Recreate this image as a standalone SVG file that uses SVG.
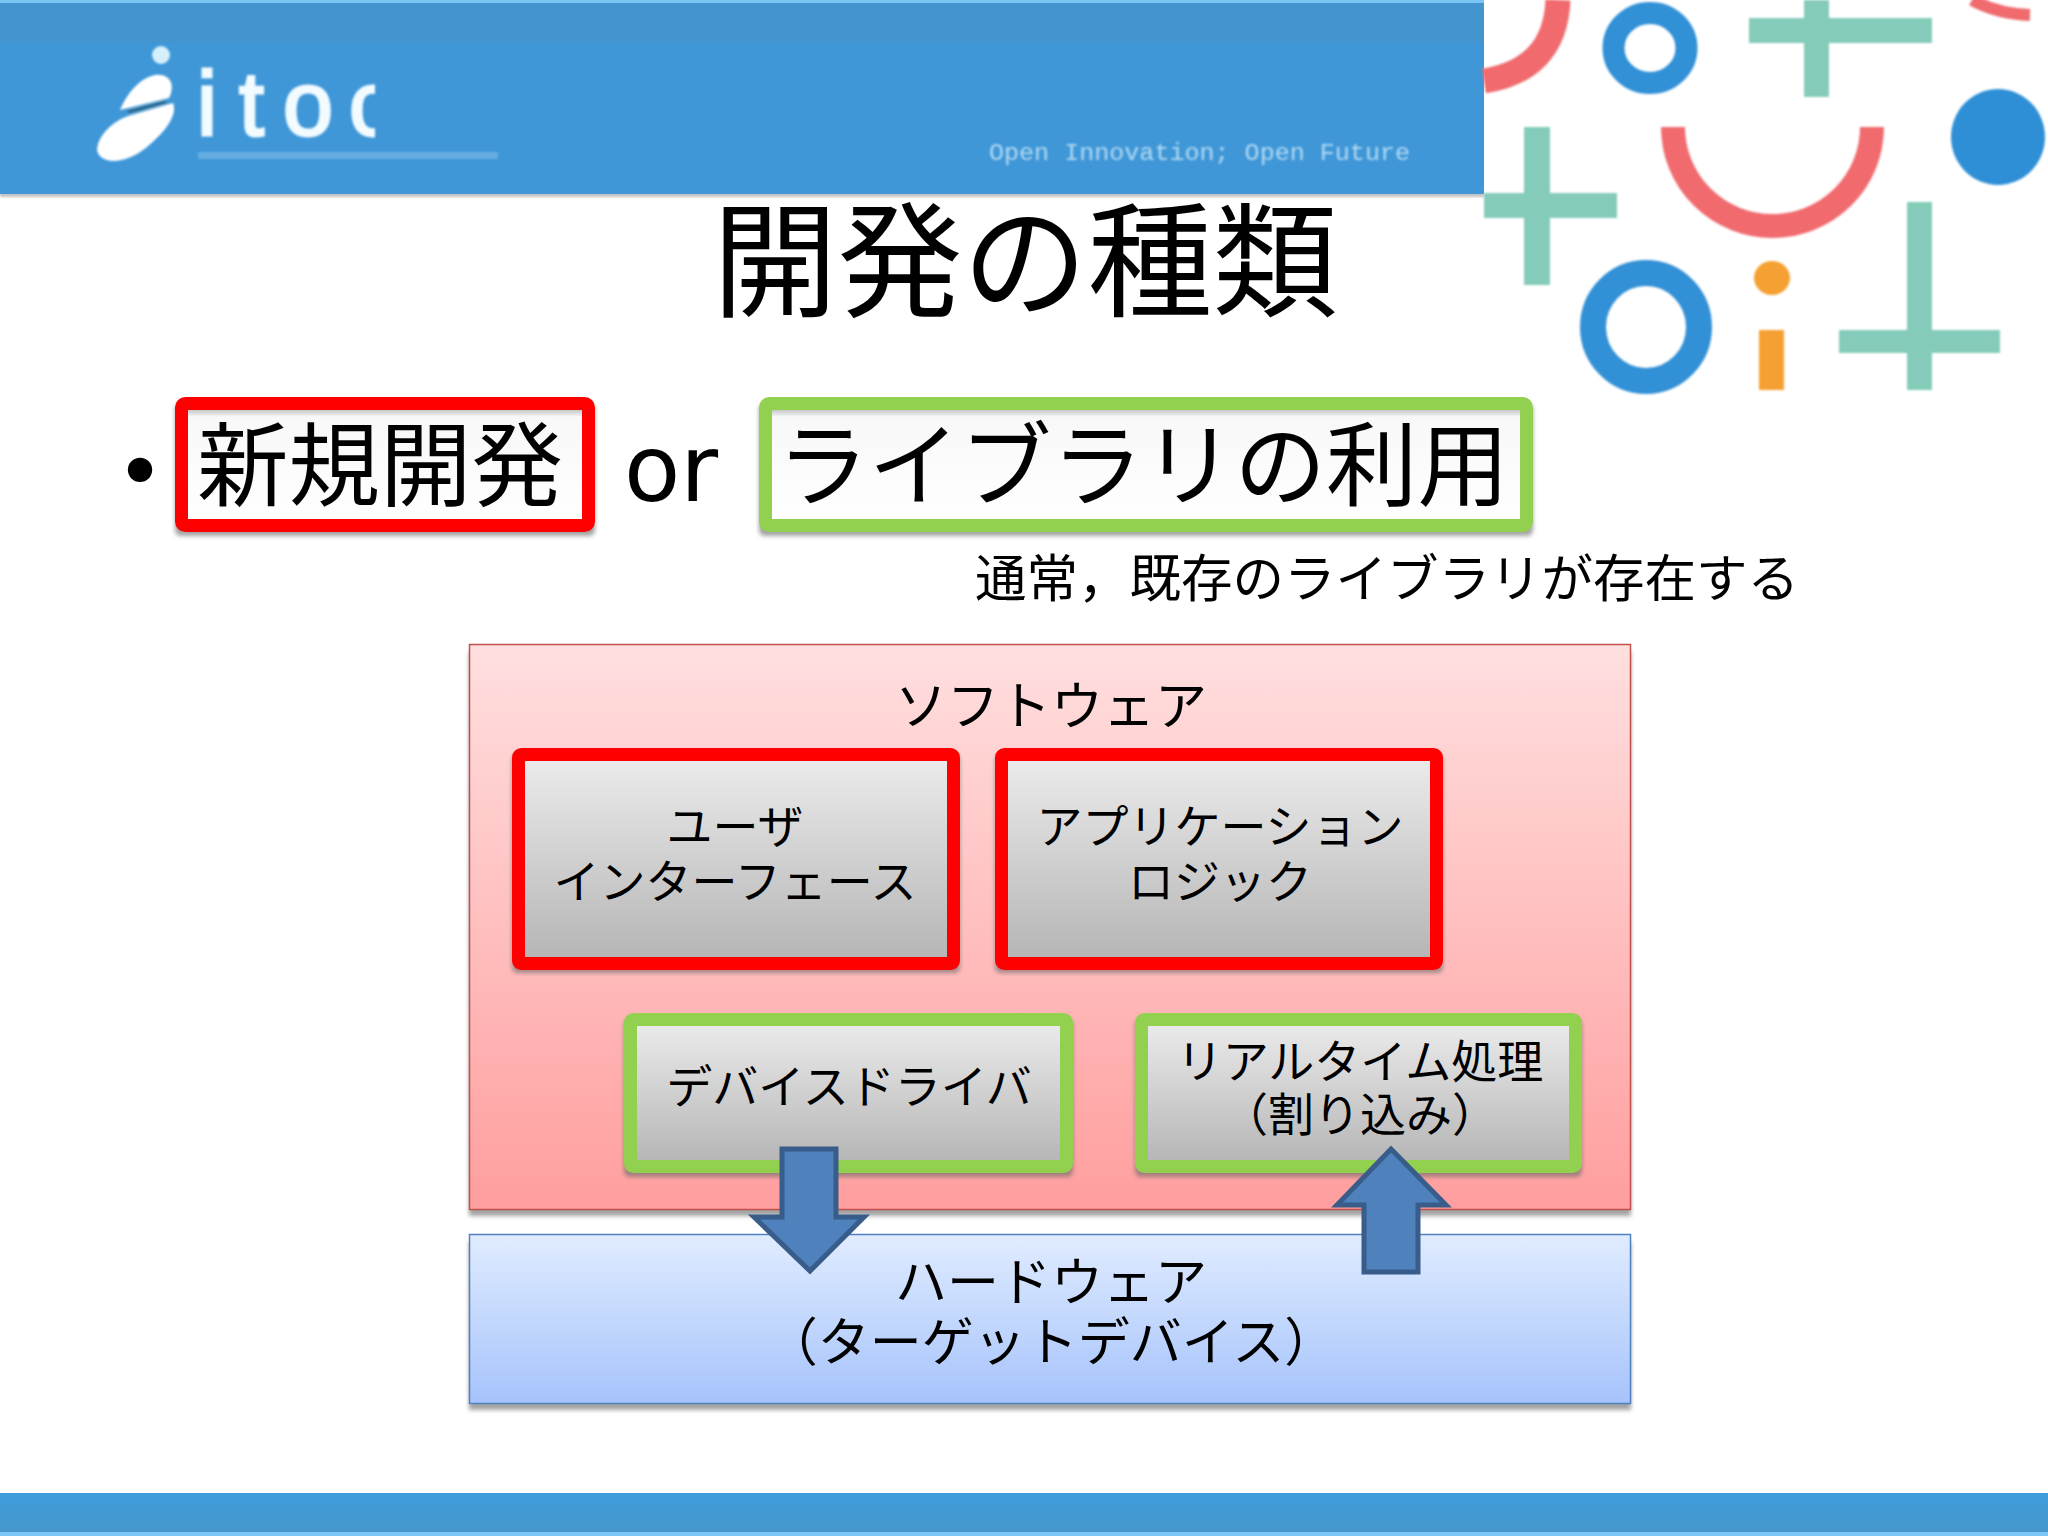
<svg xmlns="http://www.w3.org/2000/svg" width="2048" height="1536" viewBox="0 0 2048 1536">
<style>
text{font-family:"Noto Sans CJK JP","Noto Sans",sans-serif;fill:#000;text-anchor:middle}
.s51{font-size:52px}.s46{font-size:46px}.s91{font-size:91.5px}
.plus{fill:#85cbb9}.ring{fill:none;stroke:#3390d6}.arc{fill:none;stroke:#f06a6e}
.red{fill:url(#g);stroke:#f00;stroke-width:13}.grn{fill:url(#g);stroke:#92d050;stroke-width:13}
.sh{fill:#666;opacity:.6;filter:url(#b)}
.arrow{fill:#4f81bd;stroke:#385d8a;stroke-width:5}
</style>
<defs>
<linearGradient id="g" x1="0" y1="0" x2="0" y2="1"><stop offset="0" stop-color="#ececec"/><stop offset="1" stop-color="#b4b4b4"/></linearGradient>
<linearGradient id="gp" x1="0" y1="0" x2="0" y2="1"><stop offset="0" stop-color="#ffdfdf"/><stop offset="1" stop-color="#ff9e9e"/></linearGradient>
<linearGradient id="gb" x1="0" y1="0" x2="0" y2="1"><stop offset="0" stop-color="#e0ecff"/><stop offset="1" stop-color="#a6c3fb"/></linearGradient>
<linearGradient id="gw" x1="0" y1="0" x2="0" y2="1"><stop offset=".05" stop-color="#c4c4c4"/><stop offset=".11" stop-color="#f8f8f8"/><stop offset="1" stop-color="#fff"/></linearGradient>
<linearGradient id="gf" x1="0" y1="0" x2="0" y2="1"><stop offset="0" stop-color="#3d9ddc"/><stop offset="1" stop-color="#4897c9"/></linearGradient>
<filter id="b" x="-5%" y="-10%" width="110%" height="120%"><feGaussianBlur stdDeviation="2"/></filter>
<filter id="b1" x="-5%" y="-30%" width="110%" height="160%"><feGaussianBlur stdDeviation="1.2"/></filter>
<filter id="b0" x="-2%" y="-2%" width="104%" height="104%"><feGaussianBlur stdDeviation=".8"/></filter>
<clipPath id="cl"><rect x="190" y="60" width="185" height="90"/></clipPath>
</defs>
<rect width="2048" height="1536" fill="#fff"/>
<g id="header">
<rect x="0" y="192" width="1484" height="5" fill="#888" opacity=".5" filter="url(#b1)"/>
<rect x="0" y="0" width="1484" height="194" fill="#3f97d7"/>
<rect x="0" y="0" width="1484" height="3" fill="#7cc6f5"/>
<rect x="0" y="3" width="1484" height="40" fill="#4695c8" opacity=".6"/>
<g id="logo" filter="url(#b0)">
<circle cx="161" cy="55" r="9" fill="#d5f0fb"/>
<path d="M97 150C100 165 125 165 147 147C165 132 178 115 173 103L128 116C112 122 98 135 97 150Z" fill="#fff"/>
<path d="M120 110C128 92 140 78 155 75C170 73 176 85 169 98L128 108Z" fill="#fff"/>
<path d="M128 112L166 102" stroke="#2d6a8a" stroke-width="3" fill="none"/>
<text x="197 239 283 349" y="135" clip-path="url(#cl)" style="font-family:'Liberation Sans',sans-serif;font-size:90px;fill:#f2fbff;stroke:#f2fbff;stroke-width:3px;text-anchor:start">itoc</text>
</g>
<rect x="198" y="152" width="300" height="7" fill="#9fcdee" opacity=".4" filter="url(#b1)"/>
<text x="989" y="160" filter="url(#b1)" style="font-family:'Liberation Mono',monospace;font-size:23px;fill:#b4daf4;text-anchor:start" textLength="421" lengthAdjust="spacingAndGlyphs">Open Innovation; Open Future</text>
</g>
<g id="decoration" filter="url(#b0)">
<path class="arc" d="M1484 81Q1555 70 1558 0" stroke-width="25"/>
<ellipse class="ring" cx="1650" cy="48" rx="36.500" ry="35" stroke-width="22"/>
<rect class="plus" x="1749" y="18" width="183" height="25"/>
<rect class="plus" x="1804" y="0" width="25" height="97"/>
<path class="arc" d="M1972 0Q1998 14 2030 15" stroke-width="12"/>
<ellipse cx="1998" cy="137" rx="47" ry="48" fill="#2f8fd6"/>
<rect class="plus" x="1524" y="127" width="26" height="158"/>
<rect class="plus" x="1484" y="193" width="133" height="25"/>
<path class="arc" d="M1673 127A99.500 99 0 0 0 1872 127" stroke-width="24"/>
<ellipse cx="1772" cy="278" rx="18" ry="17" fill="#f5a033"/>
<rect x="1759" y="330" width="25" height="60" fill="#f5a033"/>
<ellipse class="ring" cx="1646" cy="327" rx="53" ry="54" stroke-width="26"/>
<rect class="plus" x="1907" y="202" width="25" height="188"/>
<rect class="plus" x="1839" y="330" width="161" height="23"/>
</g>
<g id="footer"><rect x="0" y="1493" width="2048" height="43" fill="url(#gf)"/><rect x="0" y="1532" width="2048" height="4" fill="#7cc6f5"/></g>
<text id="title" x="1025" y="307" font-size="125">開発の種類</text>
<g id="bullet-line">
<text x="140" y="501" style="font-family:'DejaVu Sans',sans-serif;font-size:84px">•</text>
<g id="new-dev">
<rect class="sh" x="175" y="403" width="420" height="133" rx="6"/>
<rect x="181.500" y="403.500" width="407" height="122" rx="4" fill="url(#gw)" stroke="#f00" stroke-width="13"/>
<text class="s91" x="380" y="499">新規開発</text>
</g>
<text x="671" y="501" style="font-family:'DejaVu Sans',sans-serif;font-size:92px">or</text>
<g id="library">
<rect class="sh" x="759" y="403" width="774" height="133" rx="6"/>
<rect x="765.500" y="403.500" width="761" height="122" rx="4" fill="url(#gw)" stroke="#92d050" stroke-width="13"/>
<text class="s91" x="1143" y="499">ライブラリの利用</text>
</g>
<text x="1387" y="597" style="font-size:51.500px">通常，既存のライブラリが存在する</text>
</g>
<g id="software">
<rect class="sh" x="469" y="652" width="1162" height="564"/>
<rect x="469.500" y="644.500" width="1161" height="565" fill="url(#gp)" stroke="#c0504d" stroke-width="1.500"/>
<text class="s51" x="1051" y="725">ソフトウェア</text>
</g>
<g id="hardware">
<rect class="sh" x="469" y="1242" width="1162" height="168"/>
<rect x="469.500" y="1234.500" width="1161" height="169" fill="url(#gb)" stroke="#4f81bd" stroke-width="1.500"/>
<text class="s51" x="1051" y="1301">ハードウェア</text>
<text class="s51" x="1051" y="1361">（ターゲットデバイス）</text>
</g>
<g id="ui">
<rect class="sh" x="512" y="754" width="448" height="219" rx="6"/>
<rect class="red" x="518.500" y="754.500" width="435" height="209" rx="3"/>
<text class="s46" x="735" y="843">ユーザ</text><text class="s46" x="735" y="898">インターフェース</text>
</g>
<g id="logic">
<rect class="sh" x="995" y="754" width="448" height="219" rx="6"/>
<rect class="red" x="1001.500" y="754.500" width="435" height="209" rx="3"/>
<text class="s46" x="1220" y="843">アプリケーション</text><text class="s46" x="1220" y="898">ロジック</text>
</g>
<g id="driver">
<rect class="sh" x="624" y="1019" width="449" height="158" rx="6"/>
<rect class="grn" x="630.500" y="1019.500" width="436" height="147" rx="3"/>
<text class="s46" x="849" y="1103">デバイスドライバ</text>
</g>
<g id="realtime">
<rect class="sh" x="1135" y="1019" width="447" height="158" rx="6"/>
<rect class="grn" x="1141.500" y="1019.500" width="434" height="147" rx="3"/>
<text class="s46" x="1360" y="1078">リアルタイム処理</text><text class="s46" x="1360" y="1131">（割り込み）</text>
</g>
<g id="connectors">
<path class="arrow" d="M782 1149H836V1217H864L810 1271L754 1217H782Z"/>
<path class="arrow" d="M1391 1149L1446 1205H1418V1272H1364V1205H1337Z"/>
</g>
</svg>
